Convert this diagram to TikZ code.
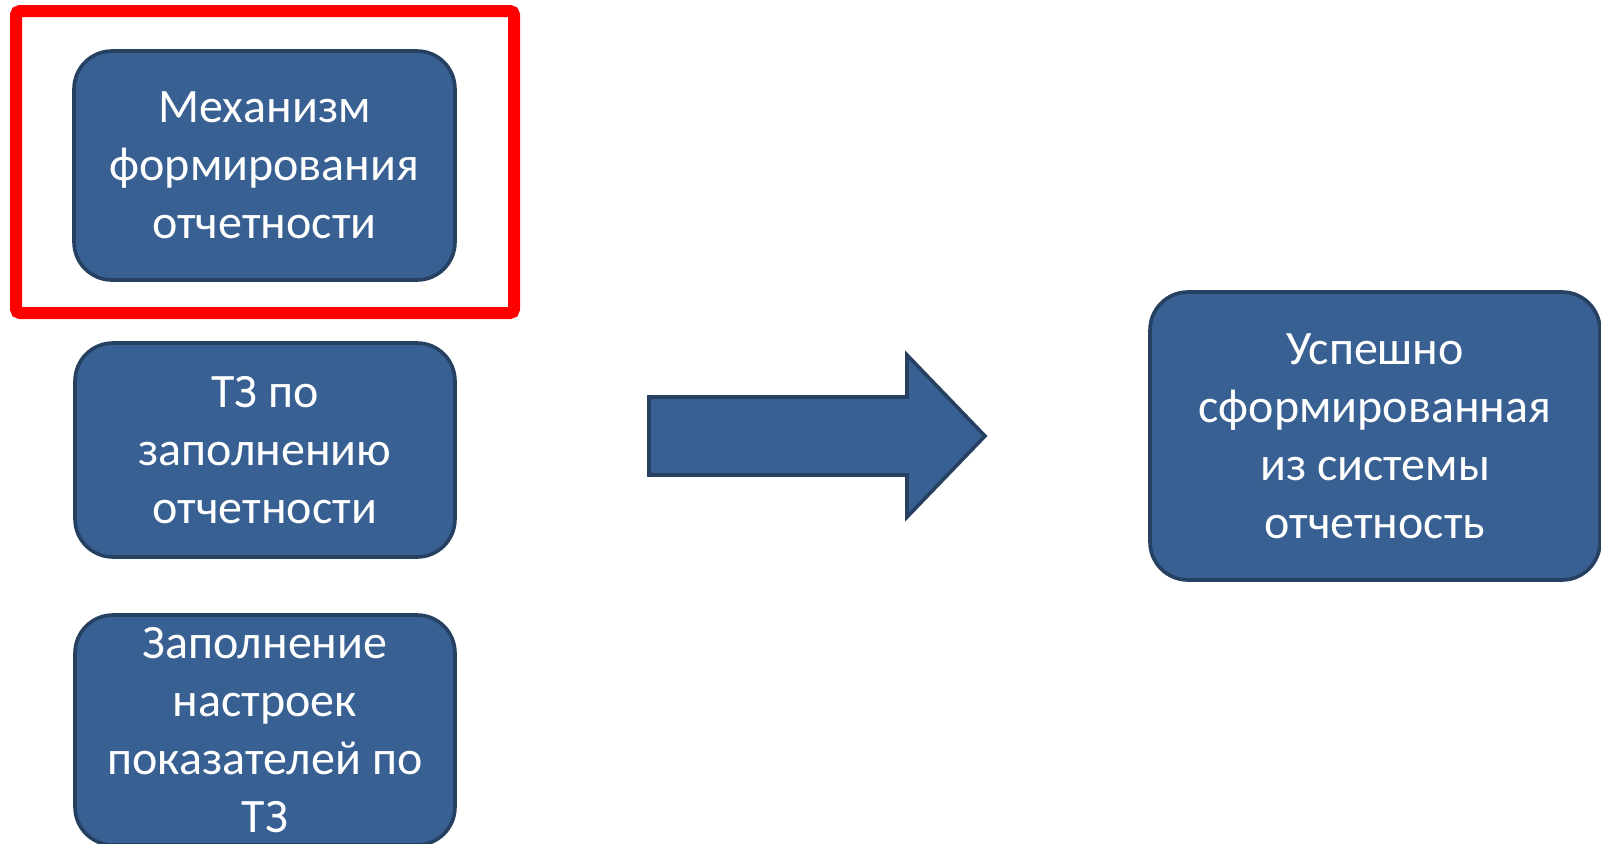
\documentclass[tikz,border=0pt]{standalone}
\usepackage{fontspec}
\setmainfont{Carlito}
\definecolor{boxfill}{RGB}{56,96,146}
\definecolor{boxline}{RGB}{37,64,97}
\tikzset{
    block/.style={draw=boxline, fill=boxfill, line width=1.8pt, rounded corners=19pt,
        text=white, align=center, inner sep=0pt, font=\fontsize{24}{29}\selectfont},
    redframe/.style={draw=red, line width=6pt, rounded corners=2pt}
}
\begin{document}
\begin{tikzpicture}[x=0.5pt,y=-0.5pt]
        \useasboundingbox (0,0) rectangle (1601,843);

        \node[block, minimum width=190.5pt, minimum height=114.5pt] (mech) at (264.5,165.5) {Механизм\\формирования\\отчетности};
        \node[block, minimum width=190pt, minimum height=107pt] (tz) at (265,450) {ТЗ по\\заполнению\\отчетности};
        \node[block, minimum width=190pt, minimum height=115pt] (fill) at (265,730) {Заполнение\\настроек\\показателей по\\ТЗ};
        \node[block, minimum width=225pt, minimum height=144pt] (result) at (1375,436) {Успешно\\сформированная\\из системы\\отчетность};

        \draw[redframe] (16,11) rectangle (514,313);

        \draw[boxline, fill=boxfill, line width=1.8pt] (649,397) -- (907,397) -- (907,355) -- (985,436)
            -- (907,517) -- (907,475) -- (649,475) -- cycle;
\end{tikzpicture}
\end{document}
